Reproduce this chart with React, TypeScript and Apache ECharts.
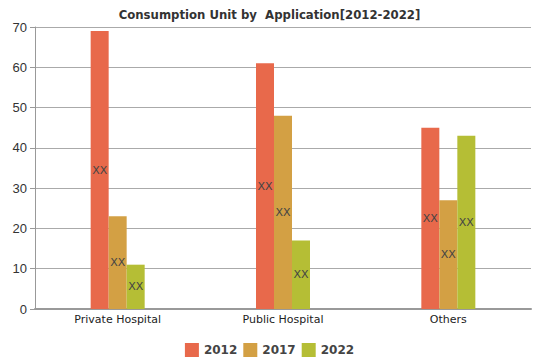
import React, { useEffect, useRef } from "react";
import * as echarts from "echarts";

const categories = ["Private Hospital", "Public Hospital", "Others"];
const seriesNames = ["2012", "2017", "2022"];
const values2012 = [69, 61, 45];
const values2017 = [23, 48, 27];
const values2022 = [11, 17, 43];
const colors = ["#e8694b", "#d3a044", "#b5be35"];
const yTicks = { min: 0, max: 70, interval: 10 };

export default function App() {
  const ref = useRef<HTMLDivElement>(null);
  useEffect(() => {
    if (!ref.current) return;
    const chart = echarts.init(ref.current, undefined, { renderer: "svg" });
    const data = [values2012, values2017, values2022];
    chart.setOption({
      animation: false,
      title: {
        text: "Consumption Unit by  Application[2012-2022]",
        left: "center",
        top: 3,
        textStyle: {
          fontFamily: "DejaVu Sans Condensed",
          fontWeight: "bold",
          fontSize: 13,
          color: "#333",
        },
      },
      legend: {
        top: 338,
        left: "center",
        itemWidth: 14,
        itemHeight: 14,
        itemGap: 6,
        icon: "rect",
        textStyle: { fontSize: 12, fontWeight: "bold", color: "#444", fontFamily: "DejaVu Sans" },
        data: seriesNames,
      },
      grid: { left: 35, right: 8, top: 27, bottom: 50 },
      xAxis: {
        type: "category",
        data: categories,
        axisLine: { lineStyle: { color: "#999", width: 2 } },
        axisTick: { alignWithLabel: true, length: 4, lineStyle: { color: "#999" } },
        axisLabel: { fontSize: 11, color: "#222", fontFamily: "DejaVu Sans", margin: 5 },
      },
      yAxis: {
        type: "value",
        min: yTicks.min,
        max: yTicks.max,
        interval: yTicks.interval,
        axisLine: { show: true, lineStyle: { color: "#999" } },
        axisTick: { show: true, length: 5, lineStyle: { color: "#999" } },
        axisLabel: { fontSize: 13, color: "#333", fontFamily: "Liberation Sans", margin: 8 },
        splitLine: { lineStyle: { color: "#aaa" } },
      },
      series: seriesNames.map((name, i) => ({
        name,
        type: "bar",
        data: data[i],
        barWidth: 18,
        barGap: "0%",
        itemStyle: { color: colors[i] },
        label: {
          show: true,
          position: "inside",
          formatter: "XX",
          color: "#444",
          fontSize: 11,
          fontFamily: "DejaVu Sans",
        },
      })),
    });
    return () => chart.dispose();
  }, []);
  return <div ref={ref} style={{ width: 539, height: 359, position: "absolute", left: 0, top: 0 }} />;
}
